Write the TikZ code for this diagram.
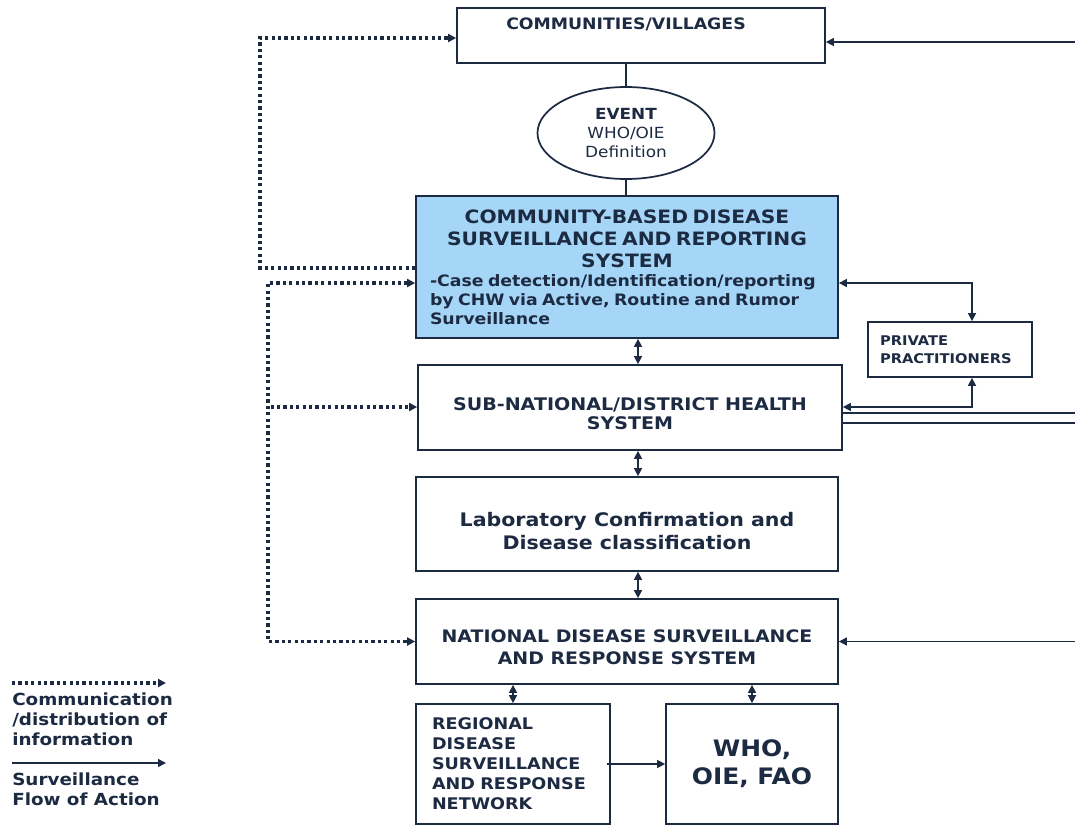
\documentclass[tikz,border=0pt]{standalone}
\usepackage{fontspec}
\setmainfont{DejaVu Sans}[FakeStretch=1.1]
\usetikzlibrary{arrows.meta,shapes.geometric,positioning}
\definecolor{navy}{RGB}{28,42,66}
\definecolor{cbsblue}{RGB}{166,214,247}
\newcommand\setfs[2]{\fontsize{#1}{#2}\selectfont}

\begin{document}
\begin{tikzpicture}[x=0.75pt, y=-0.75pt, >={Triangle[length=6pt,width=6pt]}]
       \tikzstyle{box}=[draw=navy, line width=1.3pt, rectangle, text=navy, inner sep=0pt]
       \tikzstyle{txt}=[text=navy, inner sep=0pt]
       \tikzstyle{flow}=[draw=navy, line width=1.1pt]
       \tikzstyle{info}=[draw=navy, line width=2.4pt, dash pattern=on 2.4pt off 2.4pt]
       \useasboundingbox (0,0) rectangle (1075,825);

       \node[box, minimum width=276pt, minimum height=41.25pt] (comm) at (641,35.5) {};
       \node[box, ellipse, minimum width=132.75pt, minimum height=69pt, align=center,
             font=\setfs{11.5}{14.25}] (event) at (626,133) {\textbf{EVENT}\\WHO/OIE\\Definition};
       \coordinate (commtop) at (comm.north -| event.north);
       \node[txt, below=8pt of commtop, font=\setfs{11.8}{14}\bfseries] (commtxt) {COMMUNITIES/VILLAGES};
       \node[box, fill=cbsblue, minimum width=316.5pt, minimum height=106.5pt, text width=295.5pt] (cbs) at (627,267)
        {{\centering\setfs{13.8}{16.5}\bfseries COMMUNITY-BASED DISEASE\\SURVEILLANCE AND REPORTING\\SYSTEM\par}
         {\raggedright\setfs{11.8}{14.25}\bfseries \mbox{-Case detection/Identification/reporting}\\
          \mbox{by CHW via Active, Routine and Rumor}\\Surveillance\par}};
       \node[box, minimum width=123pt, minimum height=41.25pt, text width=105pt, align=left,
             font=\setfs{10}{13.5}\bfseries] (priv) at (950,349.5) {PRIVATE\\PRACTITIONERS};
       \node[box, minimum width=318pt, minimum height=63.75pt] (dist) at (630,407.5) {};
       \node[txt, align=center, font=\setfs{13}{14.25}\bfseries] (disttxt) at ([yshift=-4.5pt]dist.center)
        {SUB-NATIONAL/DISTRICT HEALTH\\SYSTEM};
       \node[box, minimum width=316.5pt, minimum height=70.5pt] (lab) at (627,524) {};
       \node[txt, align=center, font=\setfs{14}{17.25}\bfseries] (labtxt) at ([yshift=-5pt]lab.center)
        {Laboratory Confirmation and\\Disease classification};
       \node[box, minimum width=316.5pt, minimum height=63.75pt] (nat) at (627,641.5) {};
       \node[txt, align=center, font=\setfs{12.9}{16.5}\bfseries] (nattxt) at ([yshift=-4.5pt]nat.center)
        {NATIONAL DISEASE SURVEILLANCE\\AND RESPONSE SYSTEM};
       \node[box, minimum width=145.5pt, minimum height=90pt, text width=121.5pt, align=left,
             font=\setfs{12}{15}\bfseries] (reg) at (513,764) {REGIONAL\\DISEASE\\SURVEILLANCE\\AND RESPONSE\\NETWORK\\[2pt]};
       \node[box, minimum width=129pt, minimum height=90pt, align=center,
             font=\setfs{17}{21}\bfseries] (who) at (752,764) {WHO,\\OIE, FAO};

       \coordinate (inComm) at (1075,42);
       \coordinate (inNat) at (1075,641.5);
       \coordinate (outA) at (1075,413);
       \coordinate (outB) at (1075,423);
       \coordinate (cbsPriv) at (972,283);
       \coordinate (distPriv) at (972,407);
       \coordinate (loopA) at (260,268);
       \coordinate (loopB) at (260,38);
       \coordinate (spineA) at (268,283);
       \coordinate (spineB) at (268,641.5);
       \coordinate (spineC) at (268,407);
       \coordinate (axis) at (638,0);

       \draw[flow] (event.north) -- (event.north |- comm.south);
       \draw[flow] (event.south) -- (event.south |- cbs.north);
       \draw[flow, <->] (cbs.south -| axis) -- (dist.north -| axis);
       \draw[flow, <->] (dist.south -| axis) -- (lab.north -| axis);
       \draw[flow, <->] (lab.south -| axis) -- (nat.north -| axis);
       \draw[flow, <->] (nat.south -| reg.north) -- (reg.north);
       \draw[flow, <->] (nat.south -| who.north) -- (who.north);
       \draw[flow, ->] ([xshift=-3pt]reg.east) -- (reg.east -| who.west);

       \draw[flow, ->] (inComm) -- (comm.east |- inComm);
       \draw[flow, ->] (inNat) -- (nat.east);
       \draw[flow] (dist.east |- outA) -- (outA);
       \draw[flow] (dist.east |- outB) -- (outB);
       \draw[flow, <->] (cbs.east |- cbsPriv) -- (cbsPriv) -- (cbsPriv |- priv.north);
       \draw[flow, <->] (dist.east |- distPriv) -- (distPriv) -- (distPriv |- priv.south);

       \draw[info, ->] (cbs.west |- loopA) -- (loopA) -- (loopB) -- (comm.west |- loopB);
       \draw[info, <->] (cbs.west |- spineA) -- (spineA) -- (spineB) -- (nat.west |- spineB);
       \draw[info, ->] ([xshift=2pt]spineC) -- (dist.west |- spineC);

       \coordinate (keyA) at (12,683);
       \coordinate (keyB) at (166,683);
       \coordinate (keyC) at (12,763);
       \coordinate (keyD) at (166,763);
       \draw[info, ->] (keyA) -- (keyB);
       \draw[flow, ->] (keyC) -- (keyD);
       \node[txt, below right=7pt and 0pt of keyA, align=left, font=\setfs{12.5}{15}\bfseries] (keyinfo)
        {Communication\\/distribution of\\information};
       \node[txt, below right=7pt and 0pt of keyC, align=left, font=\setfs{12.5}{15}\bfseries] (keyflow)
        {Surveillance\\Flow of Action};
      \end{tikzpicture}
\end{document}
